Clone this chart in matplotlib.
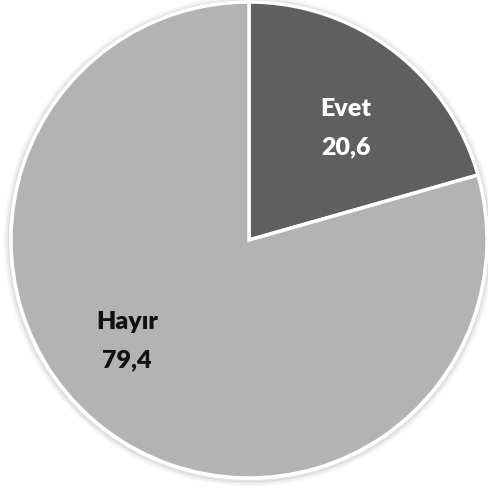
import matplotlib
matplotlib.use("Agg")
import matplotlib.pyplot as plt
from matplotlib.patches import Circle

categories = ["Evet", "Hayır"]
values = [20.6, 79.4]
value_labels = ["20,6", "79,4"]
colors = ["#5f5f5f", "#b3b3b3"]
text_colors = ["white", "#111111"]

fig = plt.figure(figsize=(4.88, 4.90), dpi=100)
ax = fig.add_axes([0, 0, 1, 1])
ax.set_xlim(0, 488)
ax.set_ylim(0, 490)
ax.set_aspect("equal")
ax.axis("off")

cx, cy, r = 249, 250, 238
# soft shadow rings
for i, a in enumerate([0.10, 0.07, 0.04, 0.02]):
    ax.add_patch(Circle((cx, cy - 1), r + 2 + i * 1.5, facecolor="none",
                        edgecolor="#000000", alpha=a, linewidth=1.5, zorder=0))

wedges, _ = ax.pie(values, colors=colors, startangle=90, counterclock=False,
                   center=(cx, cy), radius=r,
                   wedgeprops=dict(edgecolor="white", linewidth=2.5))
ax.set_xlim(0, 488)
ax.set_ylim(0, 490)

label_pos = [(346, 362), (127, 149)]
for (x, y), cat, val, tc in zip(label_pos, categories, value_labels, text_colors):
    ax.text(x, y + 19, cat, ha="center", va="center", fontsize=18,
            fontweight="heavy", color=tc, family="Lato")
    ax.text(x, y - 19, val, ha="center", va="center", fontsize=18,
            fontweight="heavy", color=tc, family="Lato")

fig.savefig("out.png", dpi=100, facecolor="white")
